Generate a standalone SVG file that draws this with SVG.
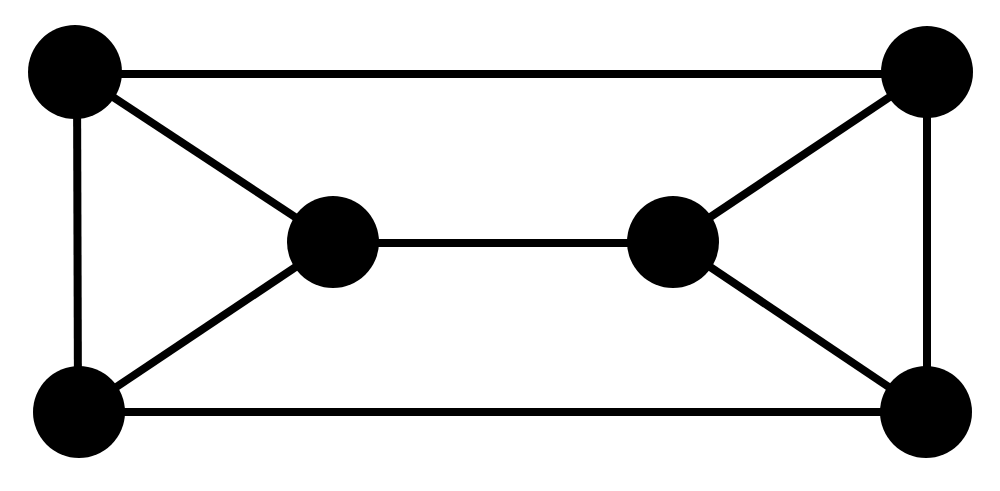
<svg xmlns="http://www.w3.org/2000/svg" width="1000" height="491" viewBox="0 0 1000 491">
<style>
.e{stroke:#000;stroke-width:8;fill:none}
.n{fill:#000}
</style>
<rect width="1000" height="491" fill="#fff"/>
<g id="edges">
<line class="e" x1="75" y1="74" x2="927" y2="74"/>
<line class="e" x1="79" y1="412" x2="926" y2="412"/>
<line class="e" x1="77" y1="73" x2="78" y2="412"/>
<line class="e" x1="927" y1="73" x2="927" y2="412"/>
<line class="e" x1="333" y1="243" x2="673" y2="243"/>
<line class="e" x1="75" y1="72" x2="333" y2="242"/>
<line class="e" x1="79" y1="412" x2="333" y2="242"/>
<line class="e" x1="927" y1="72" x2="673" y2="242"/>
<line class="e" x1="926" y1="412" x2="673" y2="242"/>
</g>
<g id="n1"><circle class="n" cx="75" cy="72" r="47"/></g>
<g id="n2"><circle class="n" cx="927" cy="72" r="46"/></g>
<g id="n3"><circle class="n" cx="333" cy="242" r="46"/></g>
<g id="n4"><circle class="n" cx="673" cy="242" r="46"/></g>
<g id="n5"><circle class="n" cx="79" cy="412" r="46"/></g>
<g id="n6"><circle class="n" cx="926" cy="412" r="46"/></g>
</svg>
